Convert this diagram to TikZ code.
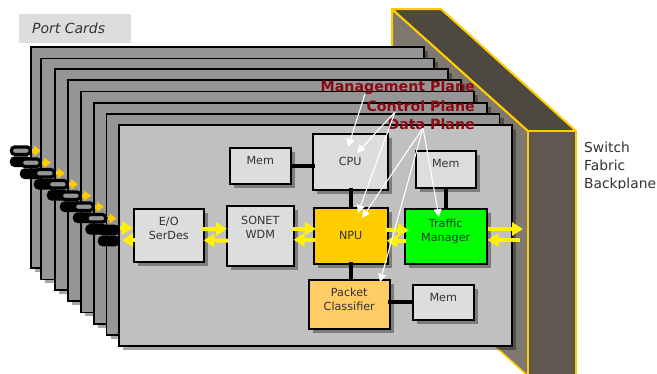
\documentclass[tikz,border=0pt]{standalone}
\usepackage{fontspec}
\setmainfont{DejaVu Sans}
\usetikzlibrary{arrows.meta,shadows,calc}
\definecolor{CardGray}{HTML}{969696}
\definecolor{FrontGray}{HTML}{C0C0C0}
\definecolor{BoxGray}{HTML}{DDDDDD}
\definecolor{WallSide}{HTML}{7F7870}
\definecolor{WallFront}{HTML}{5F5850}
\definecolor{WallTop}{HTML}{4D4840}
\definecolor{Amber}{HTML}{FFCC00}
\definecolor{PaleAmber}{HTML}{FFCC66}
\definecolor{Plane}{HTML}{8B0A14}
\definecolor{Ink}{HTML}{333333}
\begin{document}
\begin{tikzpicture}[x=1pt,y=-1pt,
  softshadow/.style={drop shadow={shadow xshift=4.5pt,shadow yshift=-4pt,fill=black,opacity=.35}},
  card/.style={draw=black,line width=1.5pt,fill=CardGray,anchor=north west,
    minimum width=393pt,minimum height=221pt,inner sep=0pt,softshadow},
  box/.style={draw=black,line width=1.5pt,fill=BoxGray,anchor=north west,align=center,
    text=Ink,font=\fontsize{11.2}{14}\selectfont,inner sep=0pt,softshadow},
  lifted/.style={text depth=#1},
  pill/.style={draw=black,line width=3.2pt,rounded corners=3.5pt,fill=CardGray,anchor=east,
    minimum width=19pt,minimum height=7.5pt,inner sep=0pt},
  link/.style={line width=4pt,draw=black},
  flow/.style={-{Triangle[length=11pt,width=13pt]},line width=4pt,draw=yellow},
  fibre/.style={-{Triangle[length=7pt,width=10pt]},line width=4pt,draw=Amber},
  note/.style={-{Triangle[length=8pt,width=8pt]},line width=1.1pt,draw=white},
  plane/.style={anchor=east,text=Plane,inner sep=0pt,font=\fontsize{14.2}{16}\bfseries\selectfont},
  wall/.style={draw=Amber,line width=2pt,line join=round}]
\useasboundingbox (0,0) rectangle (657,373);
% switch fabric
\fill[WallSide] (392,9)--(528,131)--(528,376)--(497,348)--(392,300)--cycle;
\draw[wall] (392,46)--(392,9)--(528,131)--(528,376);
\draw[wall,line width=1.5pt] (497,348)--(528,376);
\draw[wall,fill=WallTop] (392,9)--(441,9)--(576,131)--(528,131)--cycle;
\draw[wall,fill=WallFront] (528,131)--(576,131)--(576,376)--(528,376)--cycle;
% port cards, back to front
\foreach \cn/\cx/\cy/\py in {1/30/46/150.7,2/40/57.5/162.7,3/54/68/173.3,4/67/79/184.3,5/80/90.5/195.7,6/93/102/206.7,7/105.5/113/218.3}{
  \node[card] (card\cn) at (\cx,\cy) {};
  \node[pill,fill=black] (pilllow\cn) at (\cx+2,\py+11) {};
  \node[pill] (pilltop\cn) at (\cx+2,\py) {};
  \draw[fibre] (pilltop\cn.east)--(\cx+11,\py);
}
\node[card,fill=FrontGray] (card8) at (118,124) {};
\node[pill,fill=black] (pilllow8) at (120,241) {};
\node[pill,fill=black] (pilltop8) at (120,230) {};
% blocks
\node[box,lifted=13pt,minimum width=70pt,minimum height=53pt] (serdes) at (133,208) {E/O\\SerDes};
\node[box,lifted=17pt,minimum width=67pt,minimum height=60pt] (sonet) at (226,205) {SONET\\WDM};
\node[box,minimum width=74pt,minimum height=56pt,fill=Amber] (npu) at (313,207) {NPU};
\node[box,lifted=12pt,minimum width=82pt,minimum height=55pt,fill=green] (manager) at (404,208) {Traffic\\Manager};
\node[box,lifted=10pt,minimum width=81pt,minimum height=49pt,fill=PaleAmber] (classifier) at (308,279) {Packet\\Classifier};
\node[box,minimum width=75pt,minimum height=56pt] (cpu) at (312,133) {CPU};
\node[box,lifted=10pt,minimum width=61pt,minimum height=36pt] (memcpu) at (229,147) {Mem};
\node[box,lifted=12pt,minimum width=60pt,minimum height=37pt] (memtm) at (415,150) {Mem};
\node[box,lifted=10pt,minimum width=61pt,minimum height=35pt] (mempc) at (412,284) {Mem};
% black links
\draw[link,shorten >=-3pt] (memcpu.east)--(memcpu.east-|cpu.west);
\draw[link,shorten <=-3pt] (cpu.south-|npu.north)--(npu.north);
\draw[link] (memtm.south)--(memtm.south|-manager.north);
\draw[link,shorten <=-3pt] (npu.south)--(npu.south|-classifier.north);
\draw[link,shorten <=-3pt] (classifier.east|-mempc.west)--(mempc.west);
% data path
\coordinate (inright) at (120,228);
\coordinate (inleft) at (135,240);
\coordinate (outright) at (523,229);
\coordinate (outleft) at (520,240);
\draw[flow] (inright)--(inright-|serdes.west);
\draw[flow] (inleft)--(122,240);
\draw[flow] ($(serdes.east)+(-3,-6)$)--($(sonet.west)+(1,-7)$);
\draw[flow] ($(sonet.west)+(2,5)$)--($(serdes.east)+(-1,5)$);
\draw[flow] ($(sonet.east)+(-2,-7)$)--($(npu.west)+(3,-7)$);
\draw[flow] ($(npu.west)+(2,4)$)--($(sonet.east)+(-1,4)$);
\draw[flow] ($(npu.east)+(-3,-6)$)--($(manager.west)+(5,-6)$);
\draw[flow] ($(manager.west)+(2,5)$)--($(npu.east)+(-2,5)$);
\draw[flow] (manager.east|-outright)--(outright);
\draw[flow] (outleft)--(manager.east|-outleft);
% planes
\node[plane] (mgmt) at (475,88) {Management Plane};
\node[plane] (ctrl) at (475,106.5) {Control Plane};
\node[plane] (dataplane) at (475,124) {Data Plane};
\coordinate (mgmtfoot) at (365,94);
\coordinate (ctrlfoot) at (395,112);
\coordinate (datafoot) at (423,128);
\coordinate (cpumgmt) at (348,147);
\coordinate (cpuctrl) at (357,153);
\coordinate (npuctrl) at (358,213);
\coordinate (npudata) at (362,218);
\coordinate (tmdata) at (439,217);
\coordinate (pcdata) at (380,282);
\draw[note] (mgmtfoot)--(cpumgmt);
\draw[note] (ctrlfoot)--(cpuctrl);
\draw[note] (ctrlfoot)--(npuctrl);
\draw[note] (datafoot)--(npudata);
\draw[note] (datafoot)--(tmdata);
\draw[note] (datafoot)--(pcdata);
% captions
\node[fill=BoxGray,minimum width=112pt,minimum height=29pt,anchor=north west,inner sep=0pt] (portbox) at (19,14) {};
\node[anchor=west,inner sep=0pt,text=Ink,font=\fontsize{14}{16}\itshape\selectfont] (portcards) at (32,28.5) {Port Cards};
\begin{scope}
\clip (580,135) rectangle (657,188);
\node[anchor=north west,inner sep=0pt,align=left,text=Ink,font=\fontsize{13.8}{18}\selectfont] (fabric) at (584,142) {Switch\\Fabric\\Backplane};
\end{scope}
\end{tikzpicture}
\end{document}
